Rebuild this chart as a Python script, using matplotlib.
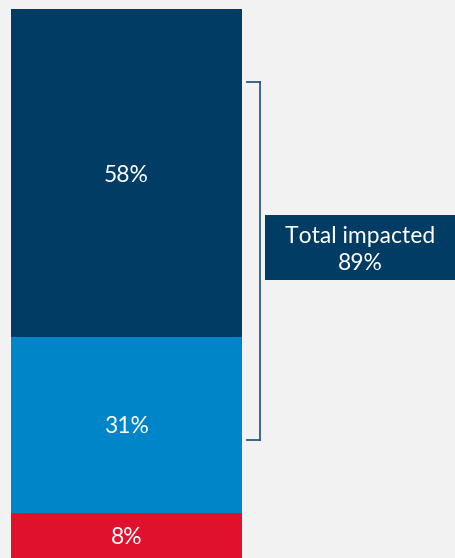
import matplotlib.pyplot as plt
from matplotlib.patches import Rectangle
from matplotlib.lines import Line2D

# Data
segments = ["Severely impacted", "Somewhat impacted", "Not impacted"]
values = [8, 31, 58]          # bottom to top
colors = ["#df112d", "#0085c8", "#003c64"]
total_label = "Total impacted\n89%"

W, H = 455, 558
fig = plt.figure(figsize=(W / 100, H / 100), dpi=100)
fig.patch.set_facecolor("#f2f2f2")

ax = fig.add_axes([11 / W, 0, 231 / W, 549 / H])
ax.set_facecolor("#f2f2f2")

bottom = 0
for val, col in zip(values, colors):
    ax.bar(0, val, width=1, bottom=bottom, color=col, edgecolor="none")
    ax.text(0, bottom + val / 2, f"{val}%", ha="center", va="center_baseline",
            color="white", fontsize=16.5, family="Lato")
    bottom += val

ax.set_xlim(-0.5, 0.5)
ax.set_ylim(0, sum(values))
ax.axis("off")

# Bracket around the impacted segments (figure pixel coordinates)
def fx(px):
    return px / W

def fy(py):
    return 1 - py / H

bx = 260
top, bot = 82, 440
for xs, ys in [([247, bx], [top, top]), ([bx, bx], [top, bot]), ([247, bx], [bot, bot])]:
    fig.add_artist(Line2D([fx(x) for x in xs], [fy(y) for y in ys],
                          color="#2a5a85", lw=1.3, transform=fig.transFigure))

# Label box
fig.add_artist(Rectangle((fx(265), fy(280)), fx(455) - fx(265), fy(215) - fy(280),
                         facecolor="#003c64", edgecolor="none",
                         transform=fig.transFigure))
fig.text(fx(360), fy(250), total_label, ha="center", va="center",
         color="white", fontsize=16.5, family="Lato", linespacing=1.35)

fig.savefig("out.png", dpi=100, facecolor=fig.get_facecolor())
